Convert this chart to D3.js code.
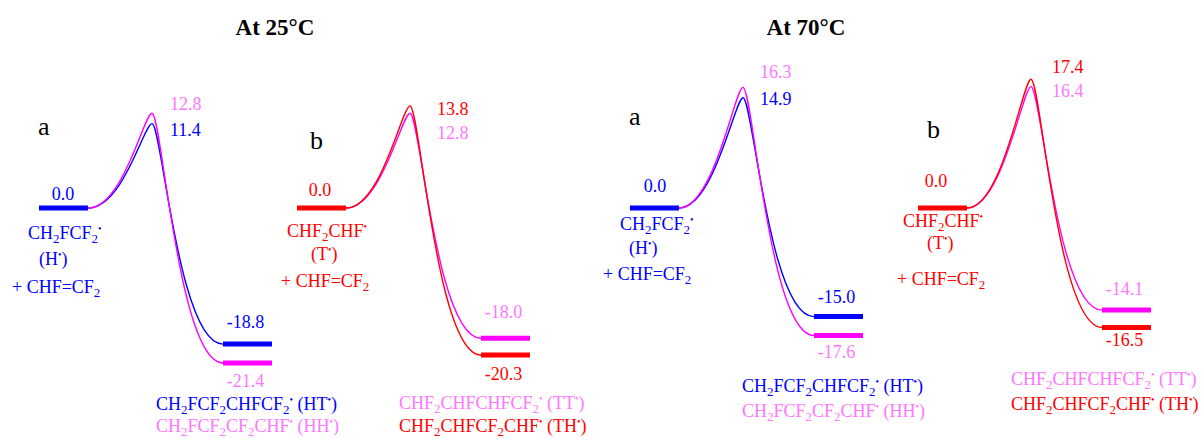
<!DOCTYPE html>
<html><head><meta charset="utf-8">
<script src="https://cdn.jsdelivr.net/npm/d3@7"></script>
<style>body{margin:0;background:#fff}svg{display:block}text{white-space:pre}</style>
</head><body>
<script>
// ---------------- data ----------------
const temperatures = ["At 25\u00B0C", "At 70\u00B0C"];
const panelLetters = ["a", "b", "a", "b"];
const reactantEnergy = [0.0, 0.0, 0.0, 0.0];
// panels a: H• radical, head-to-tail (HT) and head-to-head (HH)
const tsHT = [11.4, 14.9];
const prodHT = [-18.8, -15.0];
const tsHH = [12.8, 16.3];
const prodHH = [-21.4, -17.6];
// panels b: T• radical, tail-to-head (TH) and tail-to-tail (TT)
const tsTH = [13.8, 17.4];
const prodTH = [-20.3, -16.5];
const tsTT = [12.8, 16.4];
const prodTT = [-18.0, -14.1];
const reactantLabelsA = ["CH_2FCF_2^\u2022", "(H^\u2022)", "+ CHF=CF_2"];
const reactantLabelsB = ["CHF_2CHF^\u2022", "(T^\u2022)", "+ CHF=CF_2"];
const productLabelHT = "CH_2FCF_2CHFCF_2^\u2022 (HT^\u2022)";
const productLabelHH = "CH_2FCF_2CF_2CHF^\u2022 (HH^\u2022)";
const productLabelTT = "CHF_2CHFCHFCF_2^\u2022 (TT^\u2022)";
const productLabelTH = "CHF_2CHFCF_2CHF^\u2022 (TH^\u2022)";

// ---------------- style / layout ----------------
const W = 1202, H = 439;
const BLUE = "#0000ff", RED = "#ff0000", MAG = "#ff00ff", PINKTXT = "#ff77ff";
const FONT = "'Liberation Serif','Times New Roman',serif";
const FS = 18;

const panelLeft = [39, 297, 630, 918];
const titleX = [275, 806];
const stageNames = ["r0", "r1", "ts", "p0", "p1"];
const stageX = d3.scaleOrdinal().domain(stageNames).range([0, 49, 113, 184, 233]);
const y = d3.scaleLinear().domain([-25, 0, 20]).range([389, 208, 60]);

// label layout (offsets)
const letterPos = [[-1, -73], [13, -59], [-1, -83], [9, -70]];
const zeroLabel = [[24, -8], [23, -12], [25, -16], [18, -21]];
const reactDx = [[-11, 0, -27], [-10, 14, -16], [-10, -1, -27], [-15, 9, -21]];
const reactDy = [[31, 57, 85], [29, 52, 79], [22, 46, 72], [19, 41, 77]];
const tsLabel = [[18, -3, 25.7], [27, 9, 24], [17, -9, 26.7], [21, -6, 24]];
const prodLabelDy = [[-16, 24], [-20, 25], [-14, 23], [-15, 19]];
const prodNameDx = [117, 102, 112, 93];
const prodNameY = [[410, 432], [409, 432], [392, 417], [385, 410]];

// build panels from data arrays
const panels = [0, 1, 2, 3].map(i => {
  const t = Math.floor(i / 2);
  const isA = i % 2 === 0;
  const series = isA
    ? [{ key: "HT", color: BLUE, txt: BLUE, ts: tsHT[t], prod: prodHT[t], name: productLabelHT },
       { key: "HH", color: MAG, txt: PINKTXT, ts: tsHH[t], prod: prodHH[t], name: productLabelHH }]
    : [{ key: "TT", color: MAG, txt: PINKTXT, ts: tsTT[t], prod: prodTT[t], name: productLabelTT },
       { key: "TH", color: RED, txt: RED, ts: tsTH[t], prod: prodTH[t], name: productLabelTH }];
  return { i, t, letter: panelLetters[i], left: panelLeft[i], r: reactantEnergy[i],
           rColor: isA ? BLUE : RED, rLabels: isA ? reactantLabelsA : reactantLabelsB, series };
});

const svg = d3.select("body").append("svg").attr("width", W).attr("height", H)
  .attr("font-family", FONT);

function rich(sel, str, size) {
  const parts = []; let buf = "", k = 0;
  while (k < str.length) {
    const c = str[k];
    if (c === "_" || c === "^") {
      if (buf) { parts.push({ t: buf, m: "n" }); buf = ""; }
      parts.push({ t: str[k + 1], m: c === "_" ? "sub" : "sup" }); k += 2;
    } else { buf += c; k++; }
  }
  if (buf) parts.push({ t: buf, m: "n" });
  let cur = 0;
  parts.forEach(p => {
    const target = p.m === "sub" ? size * 0.24 : p.m === "sup" ? -size * 0.4 : 0;
    sel.append("tspan").attr("dy", target - cur)
      .attr("font-size", p.m === "n" ? size : p.m === "sub" ? size * 0.72 : size * 0.55)
      .text(p.t);
    cur = target;
  });
}

function energyPath(x0, e0, xp, ep, x1, e1) {
  const p = d3.path();
  const w1 = xp - x0, w2 = x1 - xp;
  p.moveTo(x0, y(e0));
  p.bezierCurveTo(x0 + 0.55 * w1, y(e0), xp - 0.125 * w1, y(ep), xp, y(ep));
  p.bezierCurveTo(xp + 0.14 * w2, y(ep), x1 - 0.63 * w2, y(e1), x1, y(e1));
  return p.toString();
}

// titles
svg.selectAll("text.title").data(temperatures).join("text")
  .attr("class", "title")
  .attr("x", (d, i) => titleX[i]).attr("y", 35)
  .attr("text-anchor", "middle").attr("font-weight", "bold").attr("font-size", 23)
  .attr("fill", "#000").text(d => d);

panels.forEach(P => {
  const g = svg.append("g");
  const X = s => P.left + stageX(s);

  // panel letter
  g.append("text").attr("x", P.left + letterPos[P.i][0]).attr("y", y(0) + letterPos[P.i][1])
    .attr("font-size", 26).attr("fill", "#000").text(P.letter);

  // curves
  P.series.forEach(s => {
    g.append("path").attr("d", energyPath(X("r1"), P.r, X("ts"), s.ts, X("p0"), s.prod))
      .attr("fill", "none").attr("stroke", s.color).attr("stroke-width", 1.4);
  });

  // reactant bar
  g.append("line").attr("x1", X("r0")).attr("x2", X("r1"))
    .attr("y1", y(P.r)).attr("y2", y(P.r))
    .attr("stroke", P.rColor).attr("stroke-width", 5);
  // product bars
  P.series.forEach(s => {
    g.append("line").attr("x1", X("p0")).attr("x2", X("p1"))
      .attr("y1", y(s.prod)).attr("y2", y(s.prod))
      .attr("stroke", s.color).attr("stroke-width", 5);
  });

  // reactant energy label
  g.append("text").attr("x", (X("r0") + zeroLabel[P.i][0])).attr("y", y(P.r) + zeroLabel[P.i][1])
    .attr("text-anchor", "middle").attr("font-size", FS).attr("fill", P.rColor)
    .text(P.r.toFixed(1));

  // reactant names
  P.rLabels.forEach((lab, j) => {
    const t = g.append("text").attr("x", P.left + reactDx[P.i][j]).attr("y", y(P.r) + reactDy[P.i][j])
      .attr("fill", P.rColor).attr("font-size", FS);
    rich(t, lab, FS);
  });

  // TS labels (higher first)
  const sortedTS = P.series.slice().sort((a, b) => b.ts - a.ts);
  const topY = y(sortedTS[0].ts) + tsLabel[P.i][1];
  sortedTS.forEach((s, j) => {
    g.append("text").attr("x", X("ts") + tsLabel[P.i][0]).attr("y", topY + j * tsLabel[P.i][2])
      .attr("font-size", FS).attr("fill", s.txt).text(s.ts.toFixed(1));
  });

  // product labels (upper bar label above, lower bar label below)
  const sortedP = P.series.slice().sort((a, b) => b.prod - a.prod);
  const pc = (X("p0") + X("p1")) / 2 - 2;
  sortedP.forEach((s, j) => {
    g.append("text").attr("x", pc).attr("y", y(s.prod) + prodLabelDy[P.i][j])
      .attr("text-anchor", "middle").attr("font-size", FS).attr("fill", s.txt)
      .text(s.prod.toFixed(1));
  });

  // product names
  P.series.forEach((s, j) => {
    const t = g.append("text").attr("x", P.left + prodNameDx[P.i]).attr("y", prodNameY[P.i][j])
      .attr("fill", s.txt).attr("font-size", FS);
    rich(t, s.name, FS);
  });
});
</script>
</body></html>
